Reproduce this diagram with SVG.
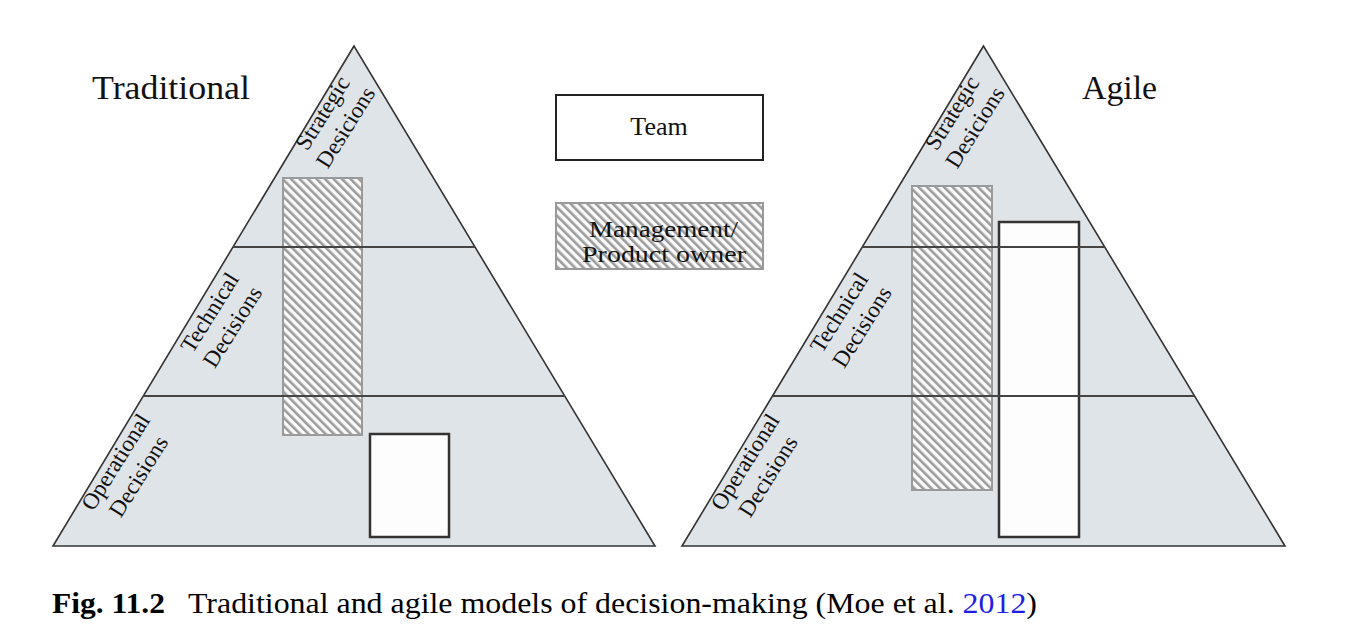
<svg xmlns="http://www.w3.org/2000/svg" width="1350" height="639" viewBox="0 0 1350 639">
<style>
.tri{fill:#dfe4e9;stroke:#333;stroke-width:1.6}
.div{stroke:#444;stroke-width:2}
.team{fill:#fdfdfd;stroke:#333;stroke-width:2.5}
.mgmt{fill:url(#hatch);stroke:#9a9a9a;stroke-width:2}
.lbl{font-family:"Liberation Serif",serif;font-size:23px;fill:#111;text-anchor:middle}
.title{font-family:"Liberation Serif",serif;font-size:34px;fill:#111}
.leg{font-family:"Liberation Serif",serif;font-size:26px;fill:#111;text-anchor:middle}
.leg2{font-family:"Liberation Serif",serif;font-size:23px;fill:#111}
.cap{font-family:"Liberation Serif",serif;font-size:29px;fill:#000}
</style>
<defs>
<pattern id="hatch" patternUnits="userSpaceOnUse" width="6" height="6" patternTransform="rotate(-45)">
<rect x="0" y="0" width="6" height="6" fill="#fafafa"/>
<rect x="0" y="0" width="2.6" height="6" fill="#9c9c9c"/>
</pattern>
</defs>
<rect width="1350" height="639" fill="#fff"/>

<g id="traditional">
<polygon class="tri" points="354,46 53,546 655,546"/>
<rect class="mgmt" x="283" y="178" width="79" height="257"/>
<rect class="team" x="370" y="434" width="79" height="103"/>
<line class="div" x1="233" y1="247" x2="475" y2="247"/>
<line class="div" x1="143" y1="396" x2="565" y2="396"/>
<text class="lbl" transform="translate(329,117) rotate(-58)"><tspan x="0" y="0">Strategic</tspan><tspan x="0" y="27">Desicions</tspan></text>
<text class="lbl" transform="translate(216,316.6) rotate(-58)"><tspan x="0" y="0">Technical</tspan><tspan x="0" y="27">Decisions</tspan></text>
<text class="lbl" transform="translate(122,466) rotate(-58)"><tspan x="0" y="0">Operational</tspan><tspan x="0" y="27">Decisions</tspan></text>
<text class="title" x="92" y="99" textLength="158" lengthAdjust="spacingAndGlyphs">Traditional</text>
</g>

<g id="agile">
<polygon class="tri" points="983.5,46 682,546 1285,546"/>
<rect class="mgmt" x="912" y="186" width="80" height="304"/>
<rect class="team" x="999" y="222" width="80" height="315"/>
<line class="div" x1="862.5" y1="247" x2="1104.5" y2="247"/>
<line class="div" x1="773" y1="396" x2="1194" y2="396"/>
<text class="lbl" transform="translate(958.5,117) rotate(-58)"><tspan x="0" y="0">Strategic</tspan><tspan x="0" y="27">Desicions</tspan></text>
<text class="lbl" transform="translate(845.5,316.6) rotate(-58)"><tspan x="0" y="0">Technical</tspan><tspan x="0" y="27">Decisions</tspan></text>
<text class="lbl" transform="translate(751.5,466) rotate(-58)"><tspan x="0" y="0">Operational</tspan><tspan x="0" y="27">Decisions</tspan></text>
<text class="title" x="1082" y="99" textLength="75" lengthAdjust="spacingAndGlyphs">Agile</text>
</g>

<g id="legend-team">
<rect x="556" y="95" width="207" height="65" fill="#fff" stroke="#222" stroke-width="2"/>
<text class="leg" x="659" y="135">Team</text>
</g>
<g id="legend-management">
<rect x="556" y="203" width="207" height="66" fill="url(#hatch)" stroke="#999" stroke-width="2"/>
<text class="leg2" x="589" y="237" textLength="149" lengthAdjust="spacingAndGlyphs">Management/</text>
<text class="leg2" x="582" y="262" textLength="164" lengthAdjust="spacingAndGlyphs">Product owner</text>
</g>

<g id="connectors"></g>

<g id="caption">
<text class="cap" x="52" y="613" font-weight="bold" textLength="113" lengthAdjust="spacingAndGlyphs">Fig. 11.2</text>
<text class="cap" x="188" y="613" textLength="849" lengthAdjust="spacingAndGlyphs">Traditional and agile models of decision-making (Moe et al. <tspan fill="#1f1fe6">2012</tspan>)</text>
</g>
</svg>
